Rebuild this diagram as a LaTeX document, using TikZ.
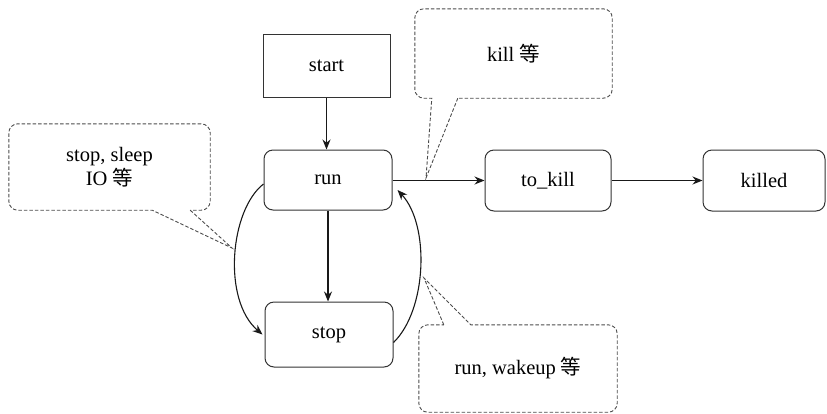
\documentclass[tikz,border=0pt]{standalone}
\usepackage{fontspec}
\setmainfont{Liberation Serif}
\newfontfamily\cjk{Noto Sans CJK SC}
\usetikzlibrary{arrows.meta,calc}
\tikzset{
  every node/.style={font=\fontsize{20.5}{24}\selectfont, align=center, inner sep=0pt},
  statebox/.style={draw=black!80, line width=1pt, rounded corners=9pt},
  startbox/.style={draw=black!80, line width=1pt},
  conn/.style={draw=black!90, line width=1.1pt, -{Stealth[length=10pt,width=8pt]}},
  calloutline/.style={draw=black!70, line width=0.9pt, dash pattern=on 3.5pt off 2pt},
}
\begin{document}
\begin{tikzpicture}[x=1pt,y=-1pt]
\useasboundingbox (0,0) rectangle (827,413);

% states
\node[startbox, minimum width=127pt, minimum height=63pt] (start) at (326.5,65.5) {start};
\node[statebox, minimum width=128pt, minimum height=60pt] (run) at (328,180) {run};
\node[statebox, minimum width=128pt, minimum height=65pt] (stop) at (329,334.5) {stop};
\node[statebox, minimum width=126pt, minimum height=61pt] (tokill) at (548,180.5) {to\_kill};
\node[statebox, minimum width=122pt, minimum height=61pt] (killed) at (764,180.5) {killed};

% connectors
\draw[conn] (start.south) -- (start.south |- run.north);
\draw[conn] (run.south) -- (run.south |- stop.north);
\draw[conn] (run.east |- tokill.west) -- (tokill.west);
\draw[conn] (tokill.east) -- (killed.west);
\draw[conn] ([yshift=-4pt]run.west) .. controls (230,210) and (222,300) .. ([xshift=-2pt]stop.west);
\draw[conn] ([yshift=-8pt]stop.east) .. controls (427,310) and (430,225) .. ([xshift=5pt,yshift=-10pt]run.east);

% callout: stop, sleep IO
\node[minimum width=201pt, minimum height=86pt] (c1) at (109.5,167) {stop, sleep\\IO {\cjk 等}};
\coordinate (t1) at (232,248);
\draw[calloutline] ([xshift=-20pt]c1.south east) -- (t1) -- ([xshift=-58pt]c1.south east)
  [rounded corners=9pt] -- (c1.south west) -- (c1.north west) -- (c1.north east) -- (c1.south east)
  [sharp corners] -- cycle;

% callout: kill
\node[minimum width=197pt, minimum height=89pt] (c2) at (513.5,53.5) {kill {\cjk 等}};
\coordinate (t2) at (426,178);
\draw[calloutline] ([xshift=43pt]c2.south west) -- (t2) -- ([xshift=17pt]c2.south west)
  [rounded corners=9pt] -- (c2.south west) -- (c2.north west) -- (c2.north east) -- (c2.south east)
  [sharp corners] -- cycle;

% callout: run, wakeup
\node[minimum width=198pt, minimum height=87pt] (c3) at (518,368.5) {run, wakeup {\cjk 等}};
\coordinate (t3) at (424,278);
\draw[calloutline] ([xshift=25pt]c3.north west) -- (t3) -- ([xshift=52pt]c3.north west)
  [rounded corners=9pt] -- (c3.north east) -- (c3.south east) -- (c3.south west) -- (c3.north west)
  [sharp corners] -- cycle;
\end{tikzpicture}
\end{document}
